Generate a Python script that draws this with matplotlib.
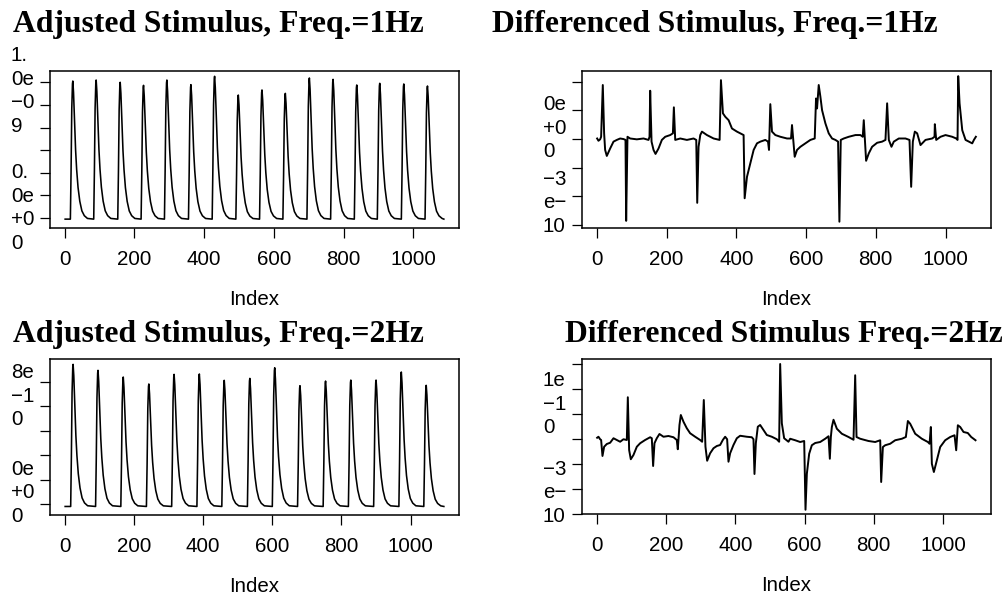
import numpy as np
import matplotlib
matplotlib.use('Agg')
import matplotlib.pyplot as plt
from matplotlib import rcParams

rcParams['font.family'] = ['Liberation Sans', 'DejaVu Sans']
rcParams['xtick.direction'] = 'out'
rcParams['ytick.direction'] = 'out'

W, H = 1008, 602
SCALE = 1e-10  # all values below are in units of 1e-10

# ---- adjusted stimulus, 1 Hz: peak index and peak height of each pulse
n_1hz = 1088
peaks_1hz = [23, 90, 159, 226, 293, 362, 430, 498, 566, 633, 702, 770, 838, 904, 973, 1041]
heights_1hz = [12.12, 12.21, 12.01, 11.74, 12.21, 11.80, 12.54, 10.88,
               11.33, 11.03, 12.39, 12.27, 11.77, 11.92, 11.86, 11.68]
base_1hz = -0.1

# ---- adjusted stimulus, 2 Hz
n_2hz = 1096
peaks_2hz = [24, 96, 169, 243, 316, 389, 461, 535, 607, 680, 754, 827, 900, 973, 1045]
heights_2hz = [11.45, 10.96, 10.41, 9.84, 10.63, 10.66, 10.14, 10.30,
               11.17, 9.70, 10.08, 10.16, 10.16, 10.82, 9.73]
base_2hz = -0.2

# pulse profile (index offset from peak, fraction of height)
pulse_off = [-7, -5, -3, -1, 0, 2, 4, 6, 8, 11, 15, 20, 26, 33, 42]
pulse_frac = [0, 0.35, 0.8, 0.98, 1, 0.92, 0.78, 0.63, 0.5, 0.36, 0.23, 0.13, 0.06, 0.025, 0.005]

# ---- differenced stimulus, 1 Hz (vertices: index, value)
diff1_x = [1, 4.8, 9.6, 12.4, 17.2, 21, 23.9, 28.7, 38.3, 47.9, 57.4, 67, 76.6, 82.3, 84.2,
           88, 95.7, 114.8, 134, 148.3, 151.2, 153.1, 157, 162.7, 168.4, 177, 186.6, 196.2,
           210.5, 218.2, 221, 224.9, 239.3, 258.4, 277.5, 285.2, 288, 291.8, 296.7, 301.5,
           315.8, 335, 352.2, 356, 361.7, 368.4, 378, 387.6, 401.9, 411.5, 421, 424, 430.7,
           440.2, 449.8, 459.4, 469, 483.3, 491, 493.8, 497.6, 502.4, 512, 526.4, 545.5,
           557, 559.8, 567.5, 574.2, 583.8, 598.1, 612.5, 624.9, 628.7, 631.6, 636.4, 641.2,
           646, 655.5, 665.1, 674.7, 684.3, 691.9, 695.7, 699.6, 708.2, 722.5, 741.7, 756,
           762.7, 765.6, 772.3, 780, 789.5, 803.9, 818.2, 827.8, 832.6, 837.4, 845, 851.7,
           866.1, 885.2, 896.7, 901.5, 906.3, 912, 918.7, 928.3, 942.6, 961.8, 968.5, 969.4,
           973.3, 985.7, 1000, 1019.2, 1030.7, 1034.5, 1036.4, 1040.3, 1048, 1057.5, 1067.1,
           1076.6, 1081.4, 1087]
diff1_y = [0.02, -0.06, -0.01, 0.08, 1.89, 0.2, -0.38, -0.59, -0.33, -0.09, -0.03, 0.02, 0,
           -0.03, -2.86, 0.08, 0.02, -0.01, 0.02, -0.03, 0.08, 1.69, -0.09, -0.38, -0.52,
           -0.33, -0.03, 0.08, 0.14, 0.2, 1.11, -0.03, 0.02, -0.03, 0.02, -0.03, -2.23, -0.27,
           0.14, 0.26, 0.14, 0.02, -0.03, 2.06, 0.9, 0.78, 0.66, 0.37, 0.26, 0.2, 0.14, -2.07,
           -1.32, -0.85, -0.38, -0.15, -0.09, -0.03, -0.09, -0.38, 1.22, 0.26, 0.14, 0.08, 0.02,
           0.02, 0.49, -0.62, -0.38, -0.27, -0.15, -0.03, 0.02, 1.42, 1.07, 1.89, 1.48, 1.01,
           0.55, 0.2, 0.02, -0.03, -0.09, -2.89, -0.03, 0.02, 0.08, 0.14, 0.14, 0.08, 0.66,
           -0.76, -0.5, -0.27, -0.13, -0.09, -0.03, 1.25, -0.03, -0.27, -0.09, 0.02, 0.02,
           -0.03, -1.67, -0.09, 0.26, 0.2, -0.21, -0.03, 0.02, 0.08, 0.52, -0.03, 0.08, 0.14,
           0.08, 0.02, -0.03, 2.2, 1.25, 0.31, -0.03, -0.09, -0.15, -0.03, 0.08]

# ---- differenced stimulus, 2 Hz
diff2_x = [1, 4.8, 9.6, 12.5, 16.4, 21.2, 28.9, 38.5, 48.2, 57.8, 67.4, 77, 86.7, 89.6, 93.4,
           98.2, 105.9, 115.6, 125.2, 139.6, 154.1, 158.9, 162.7, 166.6, 173.3, 181, 192.6,
           207, 221.5, 231.1, 234, 238.8, 242.7, 250.4, 260, 269.6, 284.1, 298.5, 304.3,
           309.1, 313.9, 318.8, 327.4, 337.1, 346.7, 356.3, 364, 370.8, 376.5, 380.4, 385.2,
           394.8, 404.5, 414.1, 433.4, 447.8, 452.6, 455.5, 459.4, 465.1, 471.9, 481.5, 491.1,
           505.6, 520, 526.8, 529.7, 534.5, 541.2, 553.7, 558.6, 573.1, 587.5, 599.1, 602.9,
           606.8, 613.5, 621.2, 630.9, 645.3, 659.8, 669.4, 673.2, 676.1, 679, 683.8, 693.5,
           707.9, 727.2, 741.6, 746.4, 750.3, 760.9, 784.9, 804.2, 818.7, 821.5, 826.4, 833.1,
           847.5, 862, 881.3, 892.8, 898.6, 905.3, 919.8, 939, 956.4, 961.2, 965, 967.9, 973.7,
           982.4, 992, 1006.4, 1020.9, 1033.4, 1038.2, 1043, 1049.8, 1059.4, 1071.7, 1081.6,
           1088.3, 1094]
diff2_y = [0.05, 0.09, -0.01, -0.04, -0.68, -0.31, -0.2, -0.15, 0.03, -0.04, -0.11, -0.01,
           -0.04, 1.67, -0.44, -0.81, -0.64, -0.31, -0.17, -0.04, 0.07, 0.03, -1.08, -0.17,
           0.03, 0.2, 0.09, 0.12, 0.07, -0.04, -0.41, 0.56, 0.96, 0.69, 0.43, 0.23, 0.09,
           -0.04, -0.11, 1.56, -0.31, -0.87, -0.57, -0.37, -0.28, -0.24, -0.04, 0.09, -0.01,
           -0.91, -0.57, -0.24, 0.03, 0.13, 0.09, 0.07, -0.01, -1.4, -0.17, 0.49, 0.56, 0.36,
           0.16, 0.09, -0.01, -0.11, 3.0, 0.63, 0.03, -0.11, 0.01, -0.05, -0.12, -0.08, -2.83,
           -1.39, -0.59, -0.25, -0.16, -0.12, 0.01, 0.11, -0.79, 0.08, 0.48, 0.77, 0.41, 0.21,
           0.08, -0.03, 2.55, 0.08, 0.01, -0.08, -0.12, -0.05, -1.72, -0.32, -0.25, -0.19,
           -0.05, 0.01, 0.08, 0.72, 0.61, 0.21, 0.01, -0.12, -0.19, 0.48, -0.99, -1.32, -0.85,
           -0.32, -0.05, 0.08, 0.15, -0.45, 0.55, 0.48, 0.28, 0.24, 0.08, 0.01, -0.05]

titles = ['Adjusted Stimulus, Freq.=1Hz', 'Differenced Stimulus, Freq.=1Hz',
          'Adjusted Stimulus, Freq.=2Hz', 'Differenced Stimulus Freq.=2Hz']
x_ticks = [0, 200, 400, 600, 800, 1000]


def pulse_trace(peaks, heights, base, n):
    xs, ys = [1], [base]
    for p, h in zip(peaks, heights):
        for o, f in zip(pulse_off, pulse_frac):
            xs.append(p + o)
            ys.append(base + f * (h - base))
    xs.append(n)
    ys.append(base)
    return np.array(xs), np.array(ys) * SCALE


adj1_x, adj1_y = pulse_trace(peaks_1hz, heights_1hz, base_1hz, n_1hz)
adj2_x, adj2_y = pulse_trace(peaks_2hz, heights_2hz, base_2hz, n_2hz)

fig = plt.figure(figsize=(W / 100, H / 100), dpi=100)


def px_axes(x0, y0, x1, y1):
    return fig.add_axes([x0 / W, 1 - y1 / H, (x1 - x0) / W, (y1 - y0) / H])


panels = [
    # box (px), x, y, n, ylim (1e-10), y ticks, line width
    ((50, 71, 459, 228), adj1_x, adj1_y, n_1hz, (-0.885, 13.01), range(0, 13, 2), 1.15),
    ((582, 71, 991, 228), np.array(diff1_x), np.array(diff1_y) * SCALE, n_1hz - 1,
     (-3.11, 2.38), range(-3, 3), 1.4),
    ((50, 359, 459, 515), adj2_x, adj2_y, n_2hz, (-0.90, 11.89), range(0, 11, 2), 1.15),
    ((582, 359, 991, 514), np.array(diff2_x), np.array(diff2_y) * SCALE, n_2hz - 1,
     (-3.0, 3.2), range(-3, 4), 1.4),
]

for (box, x, y, n, ylim, yt, lw) in panels:
    ax = px_axes(*box)
    ax.plot(x, y, color='black', linewidth=lw)
    pad = 0.04 * (n - 1)
    ax.set_xlim(1 - pad, n + pad)
    ax.set_ylim(ylim[0] * SCALE, ylim[1] * SCALE)
    ax.set_xticks(x_ticks)
    ax.set_xticklabels([str(t) for t in x_ticks], fontsize=14.8)
    ax.set_yticks([v * SCALE for v in yt])
    ax.set_yticklabels([])
    ax.tick_params(length=7.2, width=0.9, pad=8.5)
    for s in ax.spines.values():
        s.set_linewidth(1.1)
    ax.set_xlabel('Index', fontsize=14.8, labelpad=15)

# titles (serif bold), placed where the reference puts them
title_pos = [(13, 32), (492, 32), (13, 342), (565, 342)]
for t, (tx, ty) in zip(titles, title_pos):
    fig.text(tx / W, 1 - ty / H, t, family='Liberation Serif', weight='bold',
             fontsize=22.8, ha='left', va='baseline')

# y axis labels, wrapped the way the reference shows them
ylabels = [('1.\n0e\n\u22120\n9', 11, 91), ('0.\n0e\n+0\n0', 11, 208),
           ('0e\n+0\n0', 543, 128), ('\u22123\ne\u2212\n10', 543, 203),
           ('8e\n\u22121\n0', 11, 396), ('0e\n+0\n0', 11, 493),
           ('1e\n\u22121\n0', 543, 404), ('\u22123\ne\u2212\n10', 543, 493)]
for s, lx, ly in ylabels:
    fig.text(lx / W, 1 - ly / H, s, fontsize=14.8, ha='left', va='center',
             linespacing=1.3)

fig.savefig('out.png', dpi=100)
